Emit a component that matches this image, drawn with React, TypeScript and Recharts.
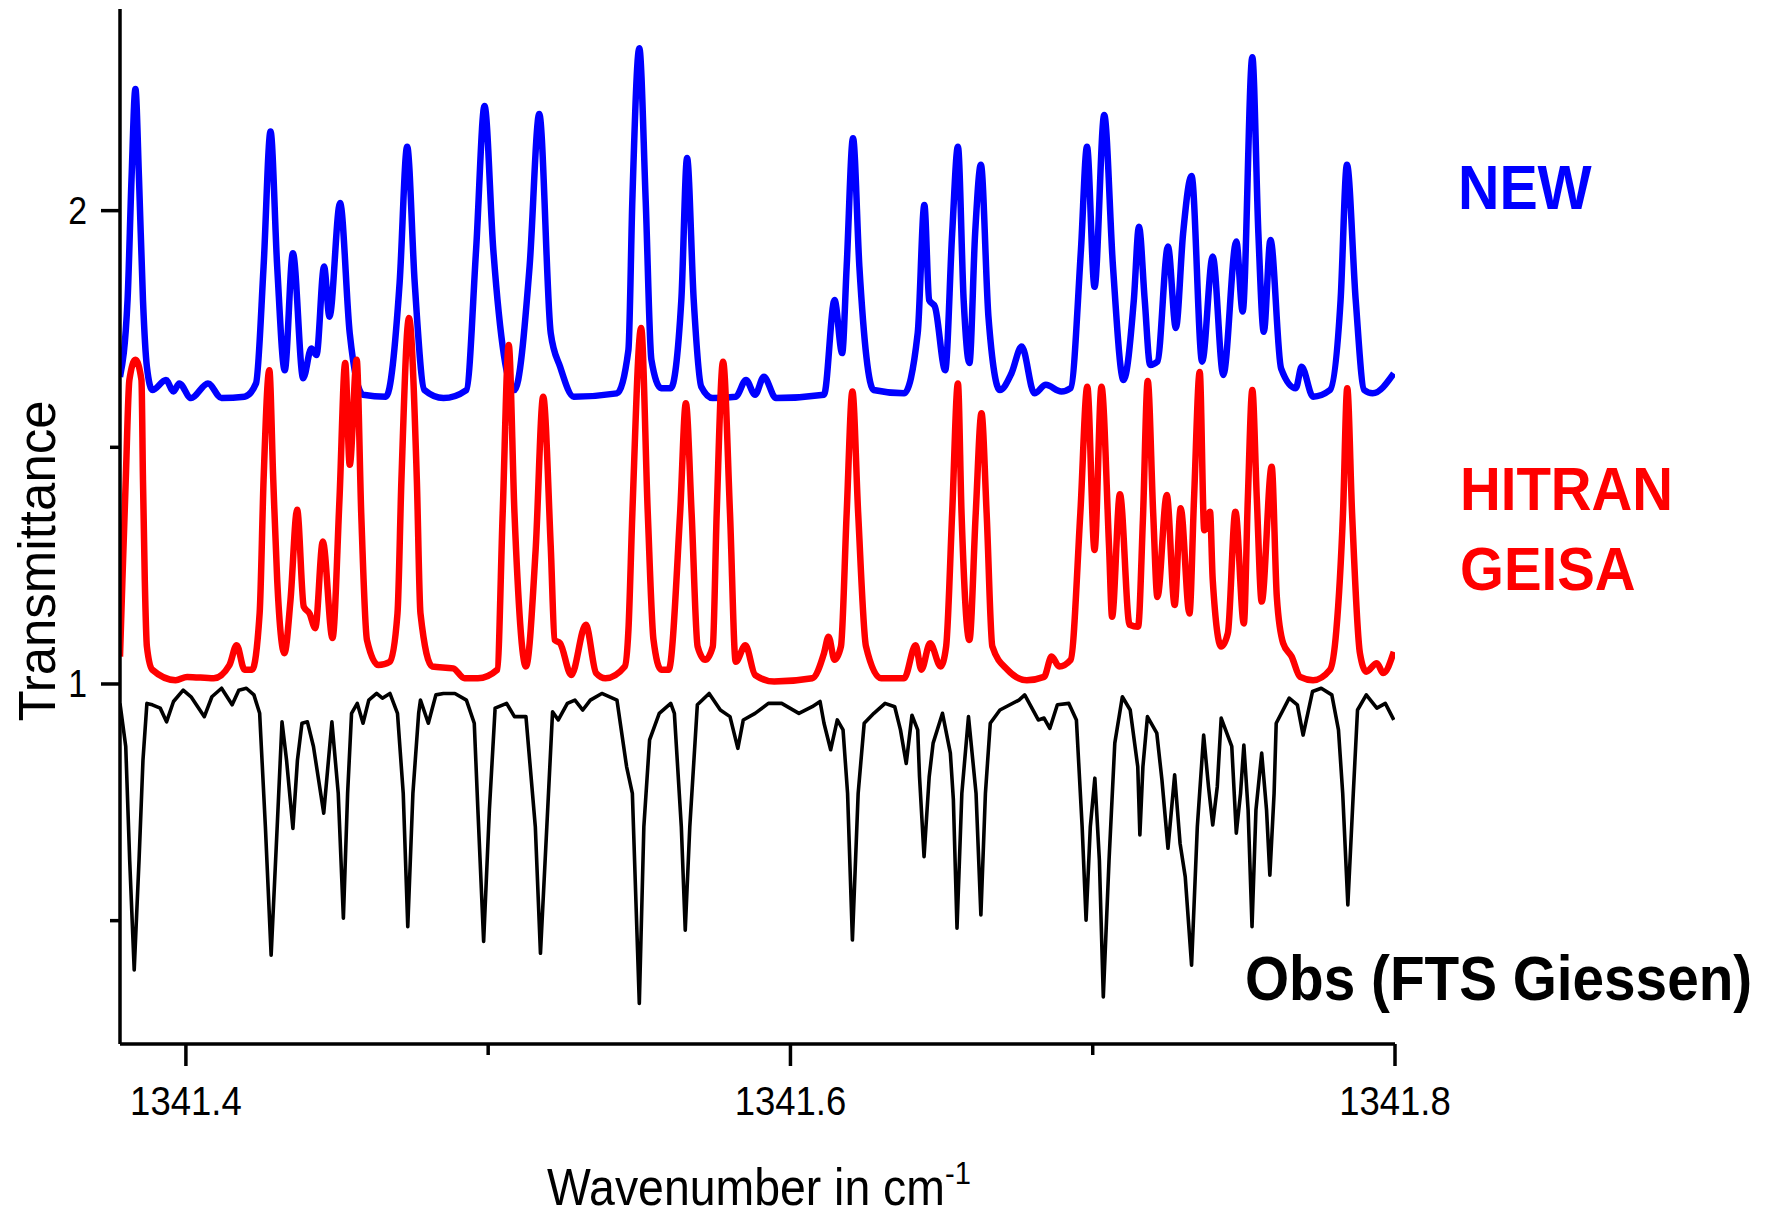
import { LineChart, Line, XAxis, YAxis } from 'recharts';

// wavenumber (cm-1) / transmittance, one pair of arrays per spectrum
const NEW_WN = [
  1341.3782, 1341.3807, 1341.382, 1341.3833, 1341.3845, 1341.3858, 1341.3871, 1341.3889, 1341.3934, 1341.3959,
  1341.3978, 1341.4017, 1341.4073, 1341.4118, 1341.4194, 1341.4232, 1341.4257, 1341.428, 1341.4302, 1341.4327,
  1341.4354, 1341.4388, 1341.4415, 1341.4432, 1341.4457, 1341.4475, 1341.451, 1341.4542, 1341.4586, 1341.4662,
  1341.4707, 1341.4732, 1341.4757, 1341.4789, 1341.4852, 1341.4928, 1341.496, 1341.4988, 1341.5017, 1341.5087,
  1341.5137, 1341.5169, 1341.5207, 1341.5238, 1341.5283, 1341.5426, 1341.5464, 1341.5477, 1341.55, 1341.5521,
  1341.554, 1341.5572, 1341.5604, 1341.5639, 1341.5658, 1341.568, 1341.5705, 1341.5743, 1341.5819, 1341.5853,
  1341.5883, 1341.5912, 1341.5952, 1341.6111, 1341.6146, 1341.6171, 1341.6186, 1341.6207, 1341.6228, 1341.6275,
  1341.6376, 1341.6421, 1341.6443, 1341.6459, 1341.6478, 1341.6512, 1341.6535, 1341.6554, 1341.6573, 1341.6592,
  1341.6611, 1341.663, 1341.6655, 1341.6693, 1341.6731, 1341.6765, 1341.6807, 1341.6845, 1341.6896, 1341.6927,
  1341.6961, 1341.6981, 1341.7006, 1341.7038, 1341.7067, 1341.7102, 1341.7136, 1341.7153, 1341.7172, 1341.719,
  1341.7214, 1341.7249, 1341.7275, 1341.7299, 1341.7327, 1341.7362, 1341.7397, 1341.7432, 1341.7475, 1341.7496,
  1341.7528, 1341.7548, 1341.7566, 1341.7588, 1341.7623, 1341.7672, 1341.7691, 1341.7729, 1341.7785, 1341.782,
  1341.7841, 1341.787, 1341.7898, 1341.7926, 1341.7996,
];
const NEW_T = [
  1.649, 1.811, 2.065, 2.257, 2.065, 1.811, 1.67, 1.621, 1.642, 1.618,
  1.635, 1.604, 1.635, 1.604, 1.607, 1.635, 1.882, 2.167, 1.882, 1.663,
  1.91, 1.646, 1.709, 1.695, 1.882, 1.776, 2.016, 1.741, 1.611, 1.607,
  1.847, 2.135, 1.847, 1.621, 1.604, 1.621, 1.917, 2.221, 1.917, 1.621,
  1.882, 2.204, 1.741, 1.67, 1.607, 1.614, 1.706, 2.023, 2.343, 2.023,
  1.685, 1.625, 1.625, 1.811, 2.111, 1.811, 1.628, 1.604, 1.607, 1.642,
  1.611, 1.649, 1.604, 1.611, 1.811, 1.699, 1.882, 2.153, 1.882, 1.621,
  1.614, 1.741, 2.012, 1.811, 1.797, 1.663, 1.952, 2.135, 1.811, 1.678,
  1.952, 2.097, 1.776, 1.621, 1.656, 1.713, 1.614, 1.632, 1.618, 1.625,
  1.917, 2.135, 1.839, 2.202, 1.882, 1.642, 1.811, 1.966, 1.811, 1.674,
  1.681, 1.924, 1.752, 1.952, 2.073, 1.681, 1.903, 1.653, 1.935, 1.787,
  2.324, 1.952, 1.744, 1.938, 1.667, 1.625, 1.67, 1.607, 1.621, 1.811,
  2.097, 1.811, 1.621, 1.614, 1.656,
];

const HITRAN_WN = [
  1341.3782, 1341.379, 1341.3801, 1341.3813, 1341.3833, 1341.3853, 1341.3858, 1341.3864, 1341.3871, 1341.3889,
  1341.3966, 1341.4004, 1341.4092, 1341.4144, 1341.4168, 1341.4194, 1341.4219, 1341.4244, 1341.4257, 1341.4276,
  1341.4289, 1341.4302, 1341.4326, 1341.4346, 1341.4368, 1341.439, 1341.4409, 1341.4428, 1341.4453, 1341.4485,
  1341.4508, 1341.4527, 1341.4542, 1341.4565, 1341.458, 1341.4599, 1341.4637, 1341.4675, 1341.47, 1341.4713,
  1341.4738, 1341.4764, 1341.4776, 1341.4815, 1341.4884, 1341.4922, 1341.4966, 1341.503, 1341.5048, 1341.5068,
  1341.5087, 1341.5125, 1341.5157, 1341.5182, 1341.5207, 1341.522, 1341.5238, 1341.5275, 1341.5323, 1341.5357,
  1341.5388, 1341.5452, 1341.5464, 1341.5477, 1341.5506, 1341.5528, 1341.5547, 1341.5572, 1341.5597, 1341.5635,
  1341.5654, 1341.5673, 1341.5693, 1341.5718, 1341.5743, 1341.5756, 1341.5777, 1341.58, 1341.5819, 1341.5851,
  1341.5883, 1341.5946, 1341.6072, 1341.6111, 1341.6126, 1341.6146, 1341.6167, 1341.6186, 1341.6205, 1341.6224,
  1341.625, 1341.63, 1341.6376, 1341.6414, 1341.6433, 1341.6462, 1341.6497, 1341.6515, 1341.6535, 1341.6554,
  1341.6566, 1341.6592, 1341.6613, 1341.6632, 1341.6649, 1341.6668, 1341.6718, 1341.6782, 1341.6839, 1341.6864,
  1341.6889, 1341.6927, 1341.6959, 1341.6982, 1341.7006, 1341.7029, 1341.7054, 1341.7064, 1341.709, 1341.7122,
  1341.715, 1341.7166, 1341.7182, 1341.72, 1341.7214, 1341.7245, 1341.7271, 1341.7291, 1341.732, 1341.7335,
  1341.7354, 1341.7369, 1341.7388, 1341.7397, 1341.7425, 1341.7447, 1341.7472, 1341.75, 1341.7513, 1341.7528,
  1341.7543, 1341.7559, 1341.7592, 1341.7609, 1341.763, 1341.7658, 1341.7686, 1341.7729, 1341.7785, 1341.7806,
  1341.7828, 1341.7842, 1341.7858, 1341.7884, 1341.7905, 1341.794, 1341.7961, 1341.7996,
];
const HITRAN_T = [
  1.058, 1.22, 1.431, 1.642, 1.685, 1.642, 1.431, 1.22, 1.079, 1.03,
  1.008, 1.015, 1.012, 1.04, 1.082, 1.03, 1.03, 1.15, 1.431, 1.663,
  1.431, 1.22, 1.065, 1.177, 1.368, 1.163, 1.149, 1.118, 1.301, 1.097,
  1.389, 1.678, 1.463, 1.685, 1.361, 1.093, 1.04, 1.047, 1.149, 1.431,
  1.773, 1.431, 1.149, 1.037, 1.033, 1.012, 1.012, 1.03, 1.361, 1.716,
  1.361, 1.037, 1.283, 1.607, 1.29, 1.093, 1.086, 1.019, 1.125, 1.023,
  1.012, 1.037, 1.114, 1.361, 1.752, 1.361, 1.093, 1.03, 1.03, 1.361,
  1.593, 1.361, 1.079, 1.051, 1.079, 1.361, 1.681, 1.361, 1.047, 1.082,
  1.019, 1.005, 1.012, 1.065, 1.1, 1.051, 1.079, 1.361, 1.618, 1.361,
  1.079, 1.012, 1.012, 1.082, 1.03, 1.086, 1.037, 1.079, 1.361, 1.635,
  1.361, 1.093, 1.361, 1.572, 1.361, 1.079, 1.03, 1.008, 1.015, 1.058,
  1.037, 1.051, 1.361, 1.628, 1.283, 1.628, 1.29, 1.142, 1.401, 1.125,
  1.121, 1.347, 1.64, 1.361, 1.184, 1.399, 1.167, 1.371, 1.149, 1.389,
  1.659, 1.325, 1.364, 1.22, 1.079, 1.107, 1.364, 1.128, 1.389, 1.621,
  1.389, 1.174, 1.459, 1.184, 1.086, 1.058, 1.015, 1.008, 1.03, 1.114,
  1.361, 1.625, 1.361, 1.065, 1.026, 1.044, 1.023, 1.068,
];

const OBS_WN = [
  1341.3782, 1341.3801, 1341.3814, 1341.3829, 1341.3845, 1341.3858, 1341.3871, 1341.3889, 1341.3915, 1341.3936,
  1341.3959, 1341.3991, 1341.4017, 1341.4061, 1341.4086, 1341.4118, 1341.4153, 1341.4175, 1341.42, 1341.4225,
  1341.4244, 1341.4263, 1341.4282, 1341.4302, 1341.4318, 1341.4333, 1341.4354, 1341.4369, 1341.4384, 1341.4402,
  1341.4422, 1341.4456, 1341.4483, 1341.4504, 1341.4521, 1341.4535, 1341.4548, 1341.4567, 1341.4586, 1341.4605,
  1341.4631, 1341.465, 1341.4675, 1341.47, 1341.4719, 1341.4734, 1341.4751, 1341.477, 1341.4776, 1341.4802,
  1341.4827, 1341.4852, 1341.489, 1341.4928, 1341.4954, 1341.4966, 1341.4985, 1341.5004, 1341.5023, 1341.5061,
  1341.5087, 1341.5125, 1341.5156, 1341.5173, 1341.5194, 1341.5213, 1341.5232, 1341.5262, 1341.5287, 1341.5313,
  1341.5338, 1341.5376, 1341.5426, 1341.5458, 1341.5477, 1341.55, 1341.5515, 1341.5534, 1341.5566, 1341.5604,
  1341.5616, 1341.5639, 1341.5652, 1341.5667, 1341.5692, 1341.5731, 1341.5768, 1341.58, 1341.5826, 1341.5844,
  1341.5883, 1341.5927, 1341.5971, 1341.6028, 1341.6072, 1341.6098, 1341.6111, 1341.6133, 1341.6155, 1341.6174,
  1341.6189, 1341.6205, 1341.6224, 1341.6244, 1341.6276, 1341.6313, 1341.6345, 1341.6364, 1341.6383, 1341.6402,
  1341.6421, 1341.6427, 1341.6442, 1341.6459, 1341.6472, 1341.6503, 1341.6529, 1341.6539, 1341.6551, 1341.6567,
  1341.6589, 1341.6614, 1341.663, 1341.6645, 1341.6661, 1341.6693, 1341.6756, 1341.6775, 1341.682, 1341.6839,
  1341.6858, 1341.6883, 1341.6921, 1341.6946, 1341.6965, 1341.6978, 1341.6992, 1341.7007, 1341.7022, 1341.7035,
  1341.7054, 1341.7073, 1341.7098, 1341.7124, 1341.7149, 1341.7156, 1341.7166, 1341.7181, 1341.7212, 1341.7229,
  1341.7249, 1341.7271, 1341.7289, 1341.7306, 1341.7327, 1341.7346, 1341.7367, 1341.7383, 1341.7397, 1341.7412,
  1341.7425, 1341.746, 1341.7475, 1341.7489, 1341.75, 1341.7514, 1341.7527, 1341.754, 1341.7559, 1341.7575,
  1341.7586, 1341.76, 1341.7607, 1341.765, 1341.7677, 1341.7696, 1341.7727, 1341.7756, 1341.7791, 1341.7813,
  1341.7827, 1341.7844, 1341.7862, 1341.7876, 1341.7905, 1341.794, 1341.7968, 1341.7996,
];
const OBS_T = [
  0.959, 0.868, 0.628, 0.396, 0.628, 0.839, 0.959, 0.956, 0.949, 0.92,
  0.963, 0.987, 0.973, 0.931, 0.973, 0.991, 0.956, 0.987, 0.991, 0.977,
  0.938, 0.698, 0.427, 0.698, 0.92, 0.839, 0.695, 0.839, 0.917, 0.92,
  0.868, 0.727, 0.92, 0.769, 0.505, 0.769, 0.938, 0.959, 0.917, 0.966,
  0.98, 0.97, 0.98, 0.938, 0.769, 0.487, 0.769, 0.938, 0.966, 0.917,
  0.977, 0.98, 0.98, 0.966, 0.917, 0.734, 0.456, 0.734, 0.949, 0.959,
  0.931, 0.931, 0.698, 0.431, 0.698, 0.941, 0.924, 0.959, 0.966, 0.945,
  0.966, 0.98, 0.966, 0.825, 0.769, 0.325, 0.698, 0.882, 0.938, 0.959,
  0.938, 0.698, 0.48, 0.698, 0.956, 0.98, 0.945, 0.931, 0.864, 0.924,
  0.938, 0.959, 0.959, 0.938, 0.952, 0.963, 0.917, 0.861, 0.924, 0.903,
  0.769, 0.459, 0.769, 0.917, 0.938, 0.959, 0.952, 0.903, 0.832, 0.934,
  0.903, 0.804, 0.635, 0.804, 0.875, 0.938, 0.854, 0.755, 0.484, 0.769,
  0.931, 0.769, 0.512, 0.769, 0.917, 0.945, 0.966, 0.977, 0.924, 0.928,
  0.906, 0.956, 0.959, 0.924, 0.698, 0.501, 0.698, 0.801, 0.628, 0.339,
  0.628, 0.875, 0.973, 0.945, 0.825, 0.681, 0.825, 0.931, 0.896, 0.797,
  0.653, 0.808, 0.663, 0.593, 0.406, 0.698, 0.892, 0.783, 0.702, 0.783,
  0.928, 0.868, 0.685, 0.769, 0.871, 0.734, 0.487, 0.734, 0.854, 0.734,
  0.596, 0.769, 0.917, 0.97, 0.956, 0.892, 0.984, 0.991, 0.977, 0.903,
  0.769, 0.533, 0.769, 0.945, 0.977, 0.949, 0.959, 0.924,
];

const X_TICKS = [1341.4, 1341.5, 1341.6, 1341.7, 1341.8];
const X_LABELLED = [1341.4, 1341.6, 1341.8];
const Y_TICKS = [0.5, 1, 1.5, 2];
const Y_LABELLED = [1, 2];

const FONT = '"Liberation Sans", Arial, sans-serif';

const toPoints = (wn: number[], t: number[]) => wn.map((w, i) => ({ wn: w, t: t[i] }));

const newData = toPoints(NEW_WN, NEW_T);
const hitranData = toPoints(HITRAN_WN, HITRAN_T);
const obsData = toPoints(OBS_WN, OBS_T);

const isIn = (list: number[], v: number) => list.some((u) => Math.abs(u - v) < 1e-6);

function XTick({ x, y, payload }: any) {
  const major = isIn(X_LABELLED, payload.value);
  return (
    <g>
      <line x1={x} x2={x} y1={y} y2={y + (major ? 22 : 11)} stroke="#000" strokeWidth={3.5} />
      {major && (
        <text
          transform={`translate(${x},${y + 71}) scale(0.89,1)`}
          textAnchor="middle"
          fontSize={41}
          fontFamily={FONT}
          fill="#000"
        >
          {payload.value.toFixed(1)}
        </text>
      )}
    </g>
  );
}

function YTick({ x, y, payload }: any) {
  const major = isIn(Y_LABELLED, payload.value);
  return (
    <g>
      <line x1={x} x2={x - (major ? 19 : 10)} y1={y} y2={y} stroke="#000" strokeWidth={3.5} />
      {major && (
        <text
          transform={`translate(${x - 33},${y + 13}) scale(0.89,1)`}
          textAnchor="end"
          fontSize={38}
          fontFamily={FONT}
          fill="#000"
        >
          {payload.value}
        </text>
      )}
    </g>
  );
}

export default function App() {
  return (
    <div style={{ position: 'absolute', left: 0, top: 0, width: 1768, height: 1218, background: '#fff' }}>
      <LineChart width={1768} height={1218} margin={{ top: 9, right: 373, bottom: 74, left: 20 }}>
        <XAxis
          type="number"
          dataKey="wn"
          domain={[1341.3782, 1341.8]}
          allowDataOverflow
          ticks={X_TICKS}
          interval={0}
          height={100}
          tickSize={0}
          tickMargin={0}
          tickLine={false}
          axisLine={{ stroke: '#000', strokeWidth: 3.5 }}
          tick={(p: any) => <XTick {...p} />}
        />
        <YAxis
          type="number"
          domain={[0.2394, 2.426]}
          allowDataOverflow
          ticks={Y_TICKS}
          interval={0}
          width={100}
          tickSize={0}
          tickMargin={0}
          tickLine={false}
          axisLine={{ stroke: '#000', strokeWidth: 3.5 }}
          tick={(p: any) => <YTick {...p} />}
        />
        <Line
          data={obsData}
          dataKey="t"
          type="linear"
          stroke="#000"
          strokeWidth={3.6}
          strokeLinejoin="round"
          dot={false}
          isAnimationActive={false}
        />
        <Line
          data={newData}
          dataKey="t"
          type="monotone"
          stroke="#0000ff"
          strokeWidth={6.5}
          strokeLinejoin="round"
          dot={false}
          isAnimationActive={false}
        />
        <Line
          data={hitranData}
          dataKey="t"
          type="monotone"
          stroke="#ff0000"
          strokeWidth={6.5}
          strokeLinejoin="round"
          dot={false}
          isAnimationActive={false}
        />
      </LineChart>
      <svg
        width={1768}
        height={1218}
        style={{ position: 'absolute', left: 0, top: 0, pointerEvents: 'none' }}
        fontFamily={FONT}
      >
        <text transform="translate(1458,209) scale(0.91,1)" fill="#0000ff" fontWeight={700} fontSize={63}>
          NEW
        </text>
        <text transform="translate(1460,510) scale(0.91,1)" fill="#ff0000" fontWeight={700} fontSize={62}>
          HITRAN
        </text>
        <text transform="translate(1460,590) scale(0.91,1)" fill="#ff0000" fontWeight={700} fontSize={62}>
          GEISA
        </text>
        <text transform="translate(1245,1000) scale(0.9,1)" fill="#000" fontWeight={700} fontSize={63}>
          Obs (FTS Giessen)
        </text>
        <text transform="translate(55,561) rotate(-90)" textAnchor="middle" fill="#000" fontSize={51}>
          Transmittance
        </text>
        <text transform="translate(547,1205) scale(0.91,1)" fill="#000" fontSize={51}>
          Wavenumber in cm
          <tspan dy={-21} fontSize={32}>
            -1
          </tspan>
        </text>
      </svg>
    </div>
  );
}
